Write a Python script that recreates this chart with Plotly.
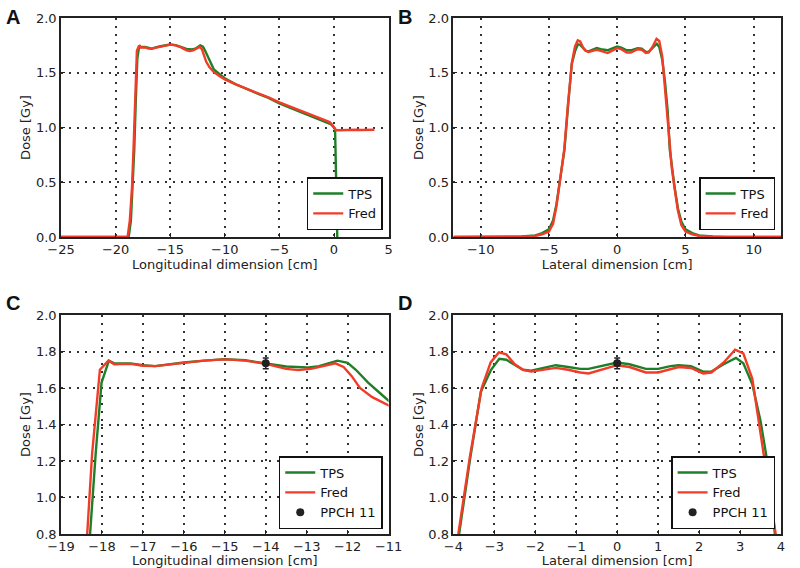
import plotly.graph_objects as go

# --- Longitudinal profile (panels A and C) ---
long_tps_x = [-25, -18.8, -18.6, -18.45, -18.29, -18.15, -18.01, -17.83, -17.7, -17.3, -17.0, -16.7,
              -16.0, -15.5, -15.0, -14.5, -14.0, -13.5, -13.0, -12.7, -12.25, -12.0, -11.8, -11.5,
              -11.2, -11.0, -10.5, -10, -9, -8, -7, -6, -5, -4, -3, -2, -1, -0.3, 0.0, 0.1, 0.2, 0.3]
long_tps_y = [0, 0, 0.15, 0.45, 0.8, 1.25, 1.63, 1.75, 1.735, 1.735, 1.725, 1.72,
              1.74, 1.75, 1.758, 1.752, 1.736, 1.718, 1.712, 1.72, 1.75, 1.738, 1.70, 1.63,
              1.57, 1.53, 1.49, 1.45, 1.395, 1.35, 1.31, 1.27, 1.22, 1.18, 1.14, 1.10, 1.06, 1.03, 1.0, 0.98, 0.5, 0.0]

long_fred_x = [-25, -18.9, -18.7, -18.5, -18.36, -18.24, -18.05, -17.84, -17.7, -17.3, -17.0, -16.7,
               -16.0, -15.5, -15.0, -14.5, -14.0, -13.5, -13.2, -12.9, -12.6, -12.3, -12.1, -11.9,
               -11.7, -11.4, -11.0, -10.5, -10, -9, -8, -7, -6, -5, -4, -3, -2, -1, -0.4, -0.2,
               0.0, 0.2, 0.5, 1.0, 1.5, 2.0, 2.5, 3.0, 3.7]
long_fred_y = [0, 0, 0.15, 0.45, 0.8, 1.24, 1.70, 1.75, 1.73, 1.732, 1.722, 1.72,
               1.738, 1.75, 1.757, 1.75, 1.732, 1.705, 1.698, 1.705, 1.72, 1.735, 1.715, 1.665,
               1.60, 1.55, 1.505, 1.47, 1.44, 1.393, 1.355, 1.315, 1.275, 1.23, 1.19, 1.15, 1.11, 1.07, 1.05, 1.03,
               1.0, 0.975, 0.975, 0.978, 0.975, 0.98, 0.977, 0.98, 0.98]

# --- Lateral profile (panels B and D) ---
lat_tps_x = [-12, -8, -7, -6, -5.5, -5, -4.7, -4.45, -4.2, -4.0, -3.86, -3.6, -3.33, -3.08, -2.88, -2.71,
             -2.5, -2.3, -2.1, -1.8, -1.5, -1.2, -0.9, -0.7, -0.4, 0, 0.3, 0.7, 1.0, 1.3, 1.5, 1.8,
             2.1, 2.3, 2.6, 2.9, 3.08, 3.3, 3.5, 3.7, 3.85, 4.0, 4.2, 4.45, 4.7, 5, 5.5, 6, 7, 8, 12]
lat_tps_y = [0, 0.001, 0.004, 0.015, 0.035, 0.07, 0.15, 0.3, 0.52, 0.68, 0.8, 1.2, 1.58, 1.70, 1.76, 1.755,
             1.725, 1.70, 1.695, 1.71, 1.725, 1.715, 1.705, 1.705, 1.72, 1.74, 1.73, 1.705, 1.705, 1.72, 1.725, 1.72,
             1.69, 1.69, 1.73, 1.765, 1.735, 1.62, 1.42, 1.15, 0.8, 0.64, 0.46, 0.26, 0.14, 0.07, 0.035, 0.015, 0.004, 0.001, 0]

lat_fred_x = [-12, -8, -7, -6, -5.5, -5, -4.7, -4.45, -4.2, -4.0, -3.88, -3.6, -3.31, -3.09, -2.89, -2.71,
              -2.5, -2.3, -2.1, -1.8, -1.5, -1.2, -0.9, -0.7, -0.4, 0, 0.3, 0.7, 1.0, 1.3, 1.5, 1.8,
              2.1, 2.3, 2.6, 2.88, 3.08, 3.3, 3.45, 3.65, 3.87, 4.0, 4.2, 4.45, 4.7, 5, 5.5, 6, 7, 8, 12]
lat_fred_y = [0, 0.001, 0.003, 0.01, 0.025, 0.05, 0.12, 0.28, 0.5, 0.67, 0.8, 1.22, 1.6, 1.74, 1.795, 1.785,
              1.73, 1.70, 1.69, 1.70, 1.71, 1.70, 1.685, 1.68, 1.70, 1.725, 1.715, 1.685, 1.685, 1.705, 1.715, 1.71,
              1.68, 1.685, 1.74, 1.81, 1.79, 1.65, 1.42, 1.12, 0.8, 0.63, 0.45, 0.24, 0.11, 0.05, 0.025, 0.01, 0.003, 0.001, 0]

# --- Measurement points ---
ppch_long_x, ppch_long_y, ppch_long_err = [-14.0], [1.735], [0.03]
ppch_lat_x, ppch_lat_y, ppch_lat_err = [0.0], [1.735], [0.03]

GREEN = "#1f7f28"
RED = "#f23c28"
FONT = "DejaVu Sans"

fig = go.Figure()

panels = [
    # (xaxis, yaxis, legend, tps xy, fred xy, ppch)
    ("x", "y", "legend", (long_tps_x, long_tps_y), (long_fred_x, long_fred_y), None),
    ("x2", "y2", "legend2", (lat_tps_x, lat_tps_y), (lat_fred_x, lat_fred_y), None),
    ("x3", "y3", "legend3", (long_tps_x, long_tps_y), (long_fred_x, long_fred_y),
     (ppch_long_x, ppch_long_y, ppch_long_err)),
    ("x4", "y4", "legend4", (lat_tps_x, lat_tps_y), (lat_fred_x, lat_fred_y),
     (ppch_lat_x, ppch_lat_y, ppch_lat_err)),
]

for xa, ya, lg, tps, fred, ppch in panels:
    fig.add_trace(go.Scatter(x=tps[0], y=tps[1], mode="lines", name="TPS",
                             line=dict(color=GREEN, width=2.4), xaxis=xa, yaxis=ya, legend=lg))
    fig.add_trace(go.Scatter(x=fred[0], y=fred[1], mode="lines", name="Fred",
                             line=dict(color=RED, width=2.4), xaxis=xa, yaxis=ya, legend=lg))
    if ppch:
        fig.add_trace(go.Scatter(x=ppch[0], y=ppch[1], mode="markers", name="PPCH 11",
                                 marker=dict(color="#222222", size=8),
                                 error_y=dict(type="data", array=ppch[2], color="#222222",
                                              thickness=1.5, width=3),
                                 xaxis=xa, yaxis=ya, legend=lg))

# --- Axes styling ---
ax_common = dict(
    showline=True, mirror=True, linecolor="#222222", linewidth=1.5,
    ticks="inside", ticklen=4, tickcolor="#222222",
    showgrid=True, gridcolor="#333333", gridwidth=1.5, griddash="1.5px,6.5px",
    zeroline=False, tickfont=dict(family=FONT, size=13, color="#222222"),
    title_font=dict(family=FONT, size=13, color="#222222"),
)

L_DOM = [0, 0.455]
R_DOM = [0.545, 1]
T_DOM = [0.5756, 1]
B_DOM = [0, 0.4244]

fig.update_layout(
    xaxis=dict(domain=L_DOM, anchor="y", range=[-25, 5], dtick=5,
               title=dict(text="Longitudinal dimension [cm]", standoff=0), **ax_common),
    yaxis=dict(domain=T_DOM, anchor="x", range=[0, 2], dtick=0.5, tickformat=".1f",
               title=dict(text="Dose [Gy]", standoff=2), **ax_common),
    xaxis2=dict(domain=R_DOM, anchor="y2", range=[-12, 12], tickvals=[-10, -5, 0, 5, 10],
                title=dict(text="Lateral dimension [cm]", standoff=0), **ax_common),
    yaxis2=dict(domain=T_DOM, anchor="x2", range=[0, 2], dtick=0.5, tickformat=".1f",
                title=dict(text="Dose [Gy]", standoff=2), **ax_common),
    xaxis3=dict(domain=L_DOM, anchor="y3", range=[-19, -11], dtick=1,
                title=dict(text="Longitudinal dimension [cm]", standoff=0), **ax_common),
    yaxis3=dict(domain=B_DOM, anchor="x3", range=[0.8, 2.0], dtick=0.2, tickformat=".1f",
                title=dict(text="Dose [Gy]", standoff=2), **ax_common),
    xaxis4=dict(domain=R_DOM, anchor="y4", range=[-4, 4], dtick=1,
                title=dict(text="Lateral dimension [cm]", standoff=0), **ax_common),
    yaxis4=dict(domain=B_DOM, anchor="x4", range=[0.8, 2.0], dtick=0.2, tickformat=".1f",
                title=dict(text="Dose [Gy]", standoff=2), **ax_common),
)

leg_common = dict(bgcolor="white", bordercolor="#111111", borderwidth=1.5,
                  font=dict(family=FONT, size=13, color="#111111"),
                  xanchor="right", yanchor="bottom", tracegroupgap=0, itemwidth=30)

fig.update_layout(
    legend=dict(x=(389 - 61) / 734, y=(534 - 230) / 516, **leg_common),
    legend2=dict(x=(789 - 61) / 734, y=(534 - 230) / 516, **leg_common),
    legend3=dict(x=(389 - 61) / 734, y=(534 - 529) / 516, **leg_common),
    legend4=dict(x=(789 - 61) / 734, y=(534 - 529) / 516, **leg_common),
)

# --- Panel letters ---
for letter, px, py in [("A", 3, 4), ("B", 403, 4), ("C", 3, 290), ("D", 403, 290)]:
    fig.add_annotation(text=f"<b>{letter}</b>", xref="paper", yref="paper",
                       x=(px - 61) / 734, y=(534 - py) / 516, xanchor="left", yanchor="top",
                       showarrow=False, font=dict(family="Liberation Sans", size=20, color="#111111"))

fig.update_layout(
    width=800, height=568,
    margin=dict(l=61, r=5, t=18, b=34),
    plot_bgcolor="white", paper_bgcolor="white",
    showlegend=True,
)

# drop the page's default body margin so the 800x568 figure fills the window
fig.write_html("out.html", config={"displayModeBar": False},
               post_script="document.body.style.margin='0';")
